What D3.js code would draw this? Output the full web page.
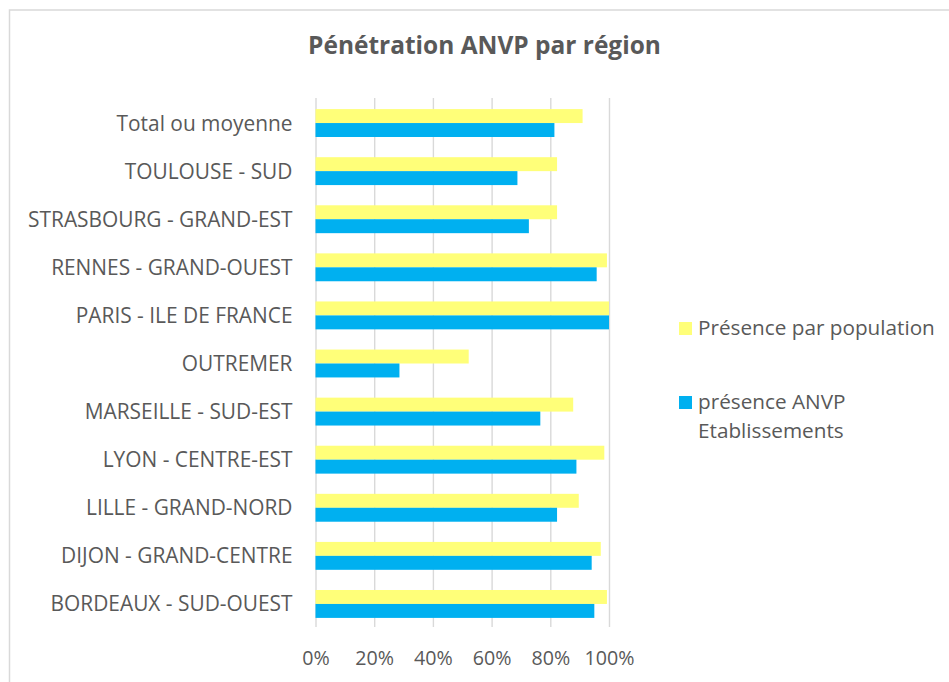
<!DOCTYPE html>
<html><head><meta charset="utf-8">
<script src="https://cdn.jsdelivr.net/npm/d3@7"></script>
<style>body{margin:0;background:#fff}svg{display:block}</style>
</head><body>
<svg id="c" width="949" height="682"></svg>
<script>
const categories = ["Total ou moyenne","TOULOUSE - SUD","STRASBOURG - GRAND-EST","RENNES - GRAND-OUEST","PARIS - ILE DE FRANCE","OUTREMER","MARSEILLE - SUD-EST","LYON - CENTRE-EST","LILLE - GRAND-NORD","DIJON - GRAND-CENTRE","BORDEAUX - SUD-OUEST"];
const population = [0.91,0.823,0.823,0.993,1.0,0.522,0.878,0.984,0.897,0.972,0.993];
const etablissements = [0.814,0.688,0.727,0.958,1.0,0.286,0.766,0.889,0.823,0.941,0.950];
const xTicks = [0,0.2,0.4,0.6,0.8,1.0];
const seriesNames = ["Présence par population","présence ANVP Etablissements"];
const colors = ["#FFFF79","#00B0F0"];
const title = "Pénétration ANVP par région";

const svg = d3.select("#c");
const FONT = "'Open Sans', sans-serif";
const TXT = "#595959";

function fit(text, weight, target){
  const t = svg.append("text").attr("font-family",FONT).attr("font-weight",weight).attr("font-size",100).text(text);
  const w = t.node().getComputedTextLength(); t.remove();
  return 100*target/w;
}

// border
svg.append("rect").attr("x",9.5).attr("y",10).attr("width",1000).attr("height",800)
  .attr("fill","none").attr("stroke","#d9d9d9").attr("stroke-width",1.5);

const m = {left:315.5, right:609, top:98, bottom:627};
const x = d3.scaleLinear().domain([0,1]).range([m.left,m.right]);
const y = d3.scaleBand().domain(categories).range([m.top+1,m.bottom+1]).paddingInner(0.42).paddingOuter(0.21);
const sub = d3.scaleBand().domain([0,1]).range([0,y.bandwidth()]);

// gridlines via axis
const gx = svg.append("g").attr("transform",`translate(0,${m.bottom})`)
  .call(d3.axisBottom(x).tickValues(xTicks).tickSize(-(m.bottom-m.top)).tickFormat(d3.format(".0%")));
gx.select(".domain").remove();
gx.selectAll(".tick line").attr("stroke","#d9d9d9").attr("stroke-width",1.4);
const tfs = fit("100%","normal",50);
gx.selectAll(".tick text").attr("font-family",FONT).attr("font-size",tfs).attr("fill",TXT)
  .attr("y",38).attr("dy",0);

// bars
const rows = categories.map((c,i)=>({c, v:[population[i],etablissements[i]]}));
const g = svg.append("g");
rows.forEach(r=>{
  r.v.forEach((v,k)=>{
    g.append("rect").attr("x",x(0)).attr("y",y(r.c)+sub(k))
      .attr("width",x(v)-x(0)).attr("height",sub.bandwidth()).attr("fill",colors[k]);
  });
});

// category axis
const lfs = fit("BORDEAUX - SUD-OUEST","normal",242);
const gy = svg.append("g").attr("transform",`translate(${m.left},0)`)
  .call(d3.axisLeft(y).tickSize(0).tickPadding(23));
gy.select(".domain").remove();
gy.selectAll(".tick text").attr("font-family",FONT).attr("font-size",lfs).attr("fill",TXT).attr("dy","0.36em");

// title
const tsz = fit(title,"bold",353);
svg.append("text").attr("x",484.5).attr("y",54).attr("text-anchor","middle")
  .attr("font-family",FONT).attr("font-weight","bold").attr("font-size",tsz).attr("fill",TXT).text(title);

// legend
const legfs = fit("Présence par population","normal",237);
const leg = svg.append("g");
leg.append("rect").attr("x",679).attr("y",322).attr("width",13).attr("height",13).attr("fill",colors[0]);
leg.append("text").attr("x",698).attr("y",335).attr("font-family",FONT).attr("font-size",legfs).attr("fill",TXT).text(seriesNames[0]);
leg.append("rect").attr("x",679).attr("y",396).attr("width",13).attr("height",13).attr("fill",colors[1]);
const lt = leg.append("text").attr("x",698).attr("y",409).attr("font-family",FONT).attr("font-size",legfs).attr("fill",TXT);
lt.append("tspan").attr("x",698).text("présence ANVP");
lt.append("tspan").attr("x",698).attr("dy",29).text("Etablissements");
</script>
</body></html>
